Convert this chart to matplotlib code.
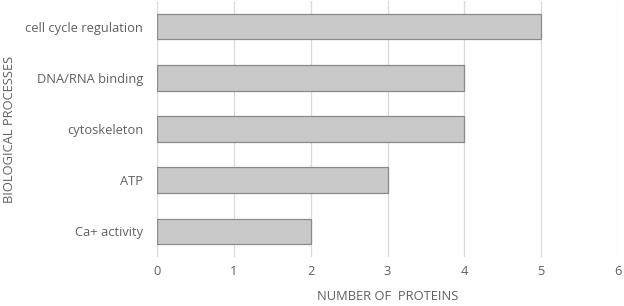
import matplotlib
matplotlib.use("Agg")
import matplotlib.pyplot as plt

categories = ["cell cycle regulation", "DNA/RNA binding", "cytoskeleton", "ATP", "Ca+ activity"]
values = [5, 4, 4, 3, 2]
xticks = [0, 1, 2, 3, 4, 5, 6]

plt.rcParams['font.family'] = ['Open Sans', 'DejaVu Sans']
txt = '#606060'

fig = plt.figure(figsize=(6.24, 3.06), dpi=100)
ax = fig.add_axes([0.2516, 0.160, 0.739, 0.837])

ypos = list(range(len(categories)))
ax.barh(ypos, values, height=0.5, color='#c9c9c9', edgecolor='#8a8a8a', linewidth=0.9, zorder=3)
ax.set_yticks(ypos)
ax.set_yticklabels(categories, fontsize=9.3, color=txt)
ax.set_ylim(len(categories) - 0.5, -0.5)
ax.set_xlim(0, 6)
ax.set_xticks(xticks)
ax.set_xticklabels([str(t) for t in xticks], fontsize=9.3, color=txt)
ax.tick_params(length=0)
ax.tick_params(axis='x', pad=6)
ax.tick_params(axis='y', pad=10)
ax.xaxis.grid(True, color='#d9d9d9', linewidth=0.9, zorder=0)
for s in ax.spines.values():
    s.set_visible(False)
ax.set_xlabel("NUMBER OF  PROTEINS", fontsize=9.3, color=txt)
ax.set_ylabel("BIOLOGICAL PROCESSES", fontsize=9.3, color=txt)
ax.xaxis.set_label_coords(0.5, -0.13)
ax.yaxis.set_label_coords(-0.305, 0.5)
fig.savefig("out.png", dpi=100)
